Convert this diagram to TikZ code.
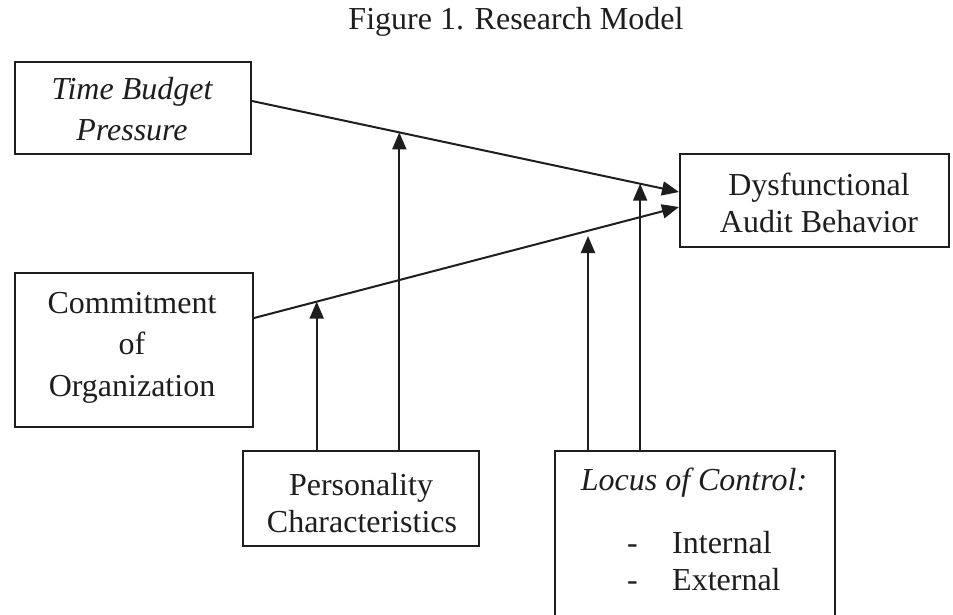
\documentclass[tikz,border=0pt]{standalone}
\usepackage{fontspec}
\setmainfont{Liberation Serif}
\usetikzlibrary{arrows.meta}
\definecolor{ink}{HTML}{1E1E1E}
\begin{document}
\begin{tikzpicture}[x=1pt,y=-1pt,
  box/.style={draw=ink, line width=2pt, inner sep=0pt, anchor=north west},
  lbl/.style={anchor=base, inner sep=0pt, text=ink, font=\fontsize{32}{38}\selectfont},
  conn/.style={draw=ink, line width=2pt},
  arr/.style={conn, -{Triangle[length=17pt,width=14pt]}}]
\useasboundingbox (0,0) rectangle (953,615);
\begin{scope}
\clip (0,0) rectangle (953,615);
\fill[white] (0,0) rectangle (953,615);
% boxes
\node[box, minimum width=236pt, minimum height=92pt] (tbp) at (14,61) {};
\node[box, minimum width=269pt, minimum height=93pt] (dab) at (679,153) {};
\node[box, minimum width=238pt, minimum height=154pt] (coo) at (14,272) {};
\node[box, minimum width=236pt, minimum height=95pt] (pc) at (242,450) {};
\node[box, minimum width=280pt, minimum height=200pt] (loc) at (554,450) {};
% labels
\node[lbl] (t0) at (516,30) {Figure 1. Research Model};
\node[lbl] (t1) at (132,100) {\itshape Time Budget};
\node[lbl] (t2) at (132,141) {\itshape Pressure};
\node[lbl] (d1) at (819,195) {Dysfunctional};
\node[lbl] (d2) at (819,232) {Audit Behavior};
\node[lbl] (c1) at (132,313) {Commitment};
\node[lbl] (c2) at (132,354) {of};
\node[lbl] (c3) at (132,396) {Organization};
\node[lbl] (pcl1) at (361,495) {Personality};
\node[lbl] (pcl2) at (362,532) {Characteristics};
\node[lbl] (l1) at (694,490) {\itshape Locus of Control:};
\node[lbl, anchor=base west] (l2) at (627,553) {-};
\node[lbl, anchor=base west] (l3) at (672,553) {Internal};
\node[lbl, anchor=base west] (l4) at (627,590) {-};
\node[lbl, anchor=base west] (l5) at (672,590) {External};
% connectors
\draw[arr] ([yshift=7pt]tbp.east) -- coordinate[pos=0.345] (m1) coordinate[pos=0.909] (m2) ([yshift=8.5pt]dab.west);
\draw[arr] ([yshift=32pt]coo.east) -- coordinate[pos=0.1475] (m3) ([yshift=-6.5pt]dab.west);
\coordinate (m4) at (588,236);
\draw[arr] (pc.north -| m3) -- (m3);
\draw[arr] (pc.north -| m1) -- (m1);
\draw[arr] (loc.north -| m4) -- (m4);
\draw[arr] (loc.north -| m2) -- (m2);
\end{scope}
\end{tikzpicture}
\end{document}
